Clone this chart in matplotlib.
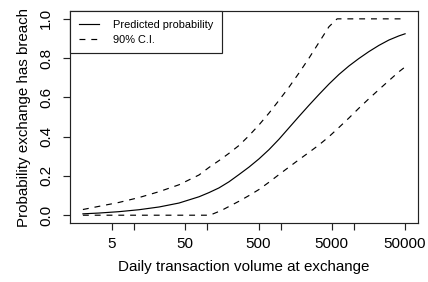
import numpy as np
import matplotlib
matplotlib.use("Agg")
import matplotlib.pyplot as plt

# --- data --- #
# x: daily transaction volume (log scale)
x_fit = [2, 3.3, 6.2, 11.7, 22, 41, 77, 105, 144, 197, 270, 370, 507, 694,
         950, 1300, 1780, 2440, 3340, 4570, 6260, 8560, 11700, 16000, 22000,
         30000, 41000, 50000]
p_fit = [0.007, 0.011, 0.018, 0.028, 0.042, 0.062, 0.094, 0.115, 0.139, 0.17,
         0.207, 0.245, 0.287, 0.334, 0.387, 0.445, 0.503, 0.56, 0.615, 0.668,
         0.717, 0.76, 0.798, 0.833, 0.865, 0.892, 0.913, 0.924]

x_up = [2, 3.3, 6.2, 11.7, 22, 41, 77, 105, 144, 197, 270, 370, 507, 694,
        950, 1300, 1780, 2440, 3340, 4570, 5900, 50000]
p_up = [0.029, 0.045, 0.065, 0.09, 0.12, 0.155, 0.205, 0.243, 0.278, 0.315,
        0.355, 0.405, 0.46, 0.52, 0.585, 0.652, 0.724, 0.80, 0.88, 0.96, 1.0, 1.0]

x_lo = [2, 108, 155, 270, 370, 507, 694, 950, 1300, 1780, 2440, 3340, 4570,
        6260, 8560, 11700, 16000, 22000, 30000, 41000, 50000]
p_lo = [0.0, 0.0, 0.024, 0.071, 0.10, 0.131, 0.168, 0.207, 0.245, 0.283,
        0.32, 0.358, 0.40, 0.447, 0.495, 0.545, 0.593, 0.64, 0.685, 0.73, 0.755]

x_major = [5, 50, 500, 5000, 50000]
x_minor = [10, 100, 1000, 10000]
y_ticks = [0.0, 0.2, 0.4, 0.6, 0.8, 1.0]

plt.rcParams['font.family'] = ['Liberation Sans', 'DejaVu Sans']

fig = plt.figure(figsize=(4.28, 2.82), dpi=100)
ax = fig.add_axes([0.1636, 0.209, 0.813, 0.752])

lw = 0.85
ax.plot(x_fit, p_fit, color='black', lw=lw, label='Predicted probability')
ax.plot(x_up, p_up, color='black', lw=lw, dashes=(5, 5), label='90% C.I.')
ax.plot(x_lo, p_lo, color='black', lw=lw, dashes=(5, 5))

ax.set_xscale('log')
ax.set_xlim(1.334, 75000)
ax.set_ylim(-0.04, 1.04)

ax.xaxis.set_major_locator(matplotlib.ticker.FixedLocator(x_major))
ax.xaxis.set_minor_locator(matplotlib.ticker.FixedLocator(x_minor))
ax.set_xticklabels([str(v) for v in x_major])
ax.xaxis.set_minor_formatter(matplotlib.ticker.NullFormatter())
ax.set_yticks(y_ticks)
ax.set_yticklabels(['%.1f' % v for v in y_ticks], rotation=90, va='center')

ax.tick_params(which='both', direction='out', length=5.3, width=0.85,
               labelsize=11, color='#222222')
ax.tick_params(axis='x', which='major', pad=4.5)
ax.tick_params(axis='y', pad=7)
for s in ax.spines.values():
    s.set_linewidth(0.85)
    s.set_color('#222222')

ax.set_xlabel('Daily transaction volume at exchange', fontsize=10.9, labelpad=7)
ax.set_ylabel('Probability exchange has breach', fontsize=10.9, labelpad=6)

leg = ax.legend(loc='upper left', fontsize=7.9, frameon=True, fancybox=False,
                edgecolor='#222222', framealpha=1, borderaxespad=0,
                handlelength=1.8, handletextpad=1.3, borderpad=0.8,
                labelspacing=0.45)
leg.get_frame().set_linewidth(0.85)

fig.savefig('out.png', dpi=100)
